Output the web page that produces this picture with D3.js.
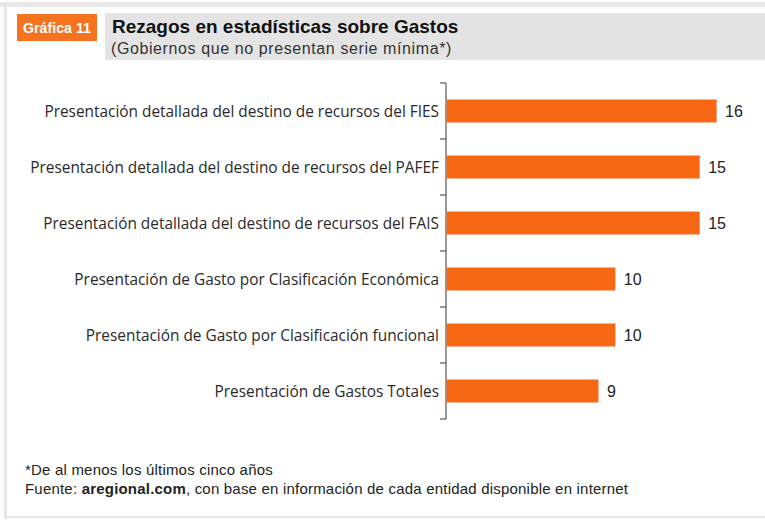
<!DOCTYPE html>
<html>
<head>
<meta charset="utf-8">
<script src="https://cdn.jsdelivr.net/npm/d3@7"></script>
<style>
  body { margin: 0; background: #fff; }
  svg { display: block; }
</style>
</head>
<body>
<svg id="chart" width="765" height="522"></svg>
<script>
// data
var categories = [
    'Presentación detallada del destino de recursos del FIES',
    'Presentación detallada del destino de recursos del PAFEF',
    'Presentación detallada del destino de recursos del FAIS',
    'Presentación de Gasto por Clasificación Económica',
    'Presentación de Gasto por Clasificación funcional',
    'Presentación de Gastos Totales'
];
var values = [16, 15, 15, 10, 10, 9];

var svg = d3.select('#chart');
var sans = 'Liberation Sans, Arial, sans-serif';

/* frame */
svg.append('rect').attr('x', 0).attr('y', 2).attr('width', 765).attr('height', 5).attr('fill', '#e8e8e8');
svg.append('rect').attr('x', 4).attr('y', 2).attr('width', 3).attr('height', 517).attr('fill', '#e8e8e8');
svg.append('rect').attr('x', 4).attr('y', 516).attr('width', 761).attr('height', 2).attr('fill', '#e8e8e8');

/* header */
svg.append('rect').attr('x', 17).attr('y', 14).attr('width', 80).attr('height', 27).attr('fill', '#f5721f');
svg.append('text').attr('x', 23).attr('y', 33)
   .style('font-family', sans).style('font-size', '14.5px')
   .style('font-weight', 'bold').attr('fill', '#fff')
   .attr('textLength', 68).attr('lengthAdjust', 'spacingAndGlyphs')
   .text('Gráfica 11');
svg.append('rect').attr('x', 105).attr('y', 13).attr('width', 660).attr('height', 47).attr('fill', '#e4e4e4');
svg.append('text').attr('x', 112).attr('y', 33)
   .style('font-family', sans).style('font-size', '19px')
   .style('font-weight', 'bold').attr('fill', '#111')
   .text('Rezagos en estadísticas sobre Gastos');
svg.append('text').attr('x', 111).attr('y', 54)
   .style('font-family', sans).style('font-size', '16px')
   .style('letter-spacing', '0.6px')
   .attr('fill', '#333')
   .text('(Gobiernos que no presentan serie mínima*)');

/* chart */
var left = 446;
var x = d3.scaleLinear().domain([0, 16]).range([left, 716]);
var y = d3.scaleBand().domain(categories).range([83, 419])
          .paddingInner(0.59).paddingOuter(0.295);

var step = y.step();
var g = svg.append('g');

g.append('line').attr('x1', left).attr('x2', left).attr('y1', 83).attr('y2', 419)
 .attr('stroke', '#555').attr('stroke-width', 1.2);

var bounds = d3.range(categories.length + 1).map(function (i) { return 83 + i * step; });
g.selectAll('line.tick').data(bounds).enter().append('line')
 .attr('class', 'tick')
 .attr('x1', left - 6).attr('x2', left)
 .attr('y1', function (d) { return d; }).attr('y2', function (d) { return d; })
 .attr('stroke', '#555').attr('stroke-width', 1.2);

g.selectAll('rect.bar').data(values).enter().append('rect')
 .attr('class', 'bar')
 .attr('x', left + 0.6)
 .attr('y', function (d, i) { return y(categories[i]); })
 .attr('width', function (d) { return x(d) - left; })
 .attr('height', y.bandwidth())
 .attr('fill', '#f86713');

g.selectAll('text.val').data(values).enter().append('text')
 .attr('class', 'val')
 .attr('x', function (d) { return x(d) + 9; })
 .attr('y', function (d, i) { return y(categories[i]) + y.bandwidth() / 2 + 6; })
 .style('font-family', sans).style('font-size', '16px')
 .attr('fill', '#222')
 .text(function (d) { return d; });

g.selectAll('text.cat').data(categories).enter().append('text')
 .attr('class', 'cat')
 .attr('x', left - 7)
 .attr('y', function (d) { return y(d) + y.bandwidth() / 2 + 5.5; })
 .attr('text-anchor', 'end')
 .style('font-family', 'Open Sans, sans-serif').style('font-size', '15.4px')
 .attr('fill', '#2a2a2a')
 .text(function (d) { return d; });

/* notes */
var notes = svg.append('text')
   .style('font-family', sans).style('font-size', '15px')
   .style('letter-spacing', '0.2px')
   .attr('fill', '#222');
notes.append('tspan').attr('x', 25).attr('y', 475).text('*De al menos los últimos cinco años');
var src = notes.append('tspan').attr('x', 25).attr('y', 494);
src.append('tspan').text('Fuente: ');
src.append('tspan').style('font-weight', 'bold').text('aregional.com');
src.append('tspan').text(', con base en información de cada entidad disponible en internet');
</script>
</body>
</html>
